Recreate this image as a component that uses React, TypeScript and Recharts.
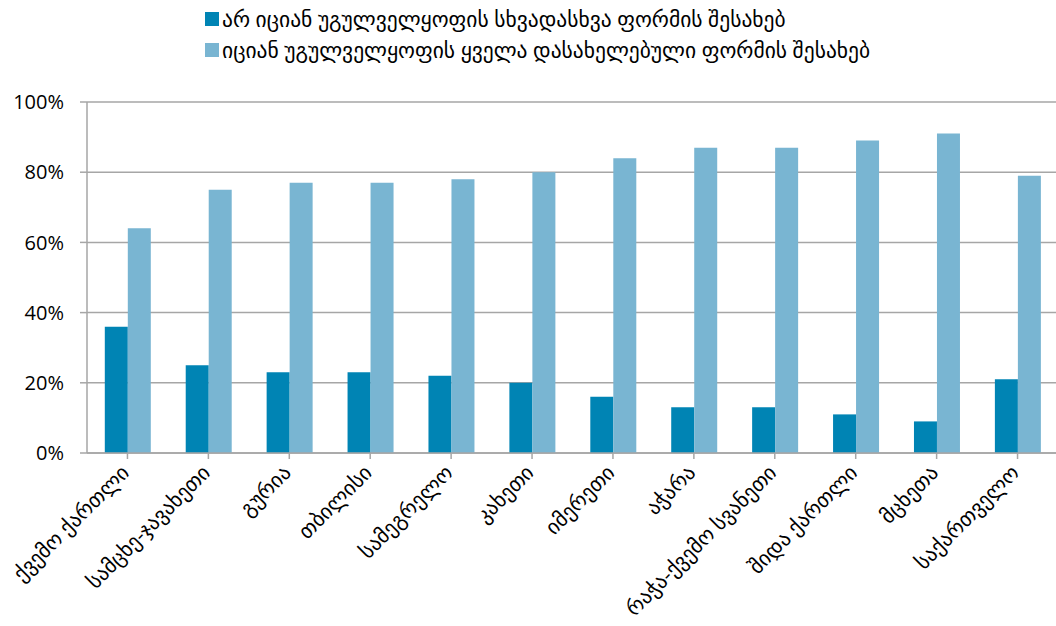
import { BarChart, Bar, XAxis, YAxis, CartesianGrid, Legend } from 'recharts';

const regions = [
  'ქვემო ქართლი',
  'სამცხე-ჯავახეთი',
  'გურია',
  'თბილისი',
  'სამეგრელო',
  'კახეთი',
  'იმერეთი',
  'აჭარა',
  'რაჭა-ქვემო სვანეთი',
  'შიდა ქართლი',
  'მცხეთა',
  'საქართველო',
];
const notAware = [36, 25, 23, 23, 22, 20, 16, 13, 13, 11, 9, 21];
const aware = [64, 75, 77, 77, 78, 80, 84, 87, 87, 89, 91, 79];
const yTicks = [0, 20, 40, 60, 80, 100];

const seriesNames = {
  notAware: 'არ იციან უგულველყოფის სხვადასხვა ფორმის შესახებ',
  aware: 'იციან უგულველყოფის ყველა დასახელებული ფორმის შესახებ',
};

const DARK = '#0084b4';
const LIGHT = '#79b5d2';
const AXIS = '#a6a6a6';
const FONT = "'Open Sans', 'DejaVu Sans', sans-serif";

const data = regions.map((name, i) => ({ name, notAware: notAware[i], aware: aware[i] }));

function XTick({ x, y, payload }: any) {
  const ax = x + 3;
  const ay = y + 13;
  return (
    <text
      x={ax}
      y={ay}
      transform={`rotate(-45 ${ax} ${ay})`}
      textAnchor="end"
      fontSize={21}
      fontFamily={FONT}
      fill="#000"
    >
      {payload.value}
    </text>
  );
}

function LegendBox({ payload }: any) {
  return (
    <div style={{ fontFamily: FONT, fontSize: 21.5, color: '#000', lineHeight: '31px' }}>
      {(payload || []).map((p: any) => (
        <div key={p.value} style={{ display: 'flex', alignItems: 'center', whiteSpace: 'nowrap' }}>
          <span style={{ width: 14, height: 14, background: p.color, marginRight: 3, display: 'inline-block' }} />
          {p.value}
        </div>
      ))}
    </div>
  );
}

export default function App() {
  return (
    <div style={{ position: 'absolute', left: 0, top: 0, width: 1056, height: 626, overflow: 'hidden', background: '#fff' }}>
      <BarChart
        width={1062}
        height={626}
        data={data}
        margin={{ top: 102, right: 4, bottom: 0, left: 0 }}
        barCategoryGap="22%"
        barGap={0}
      >
        <CartesianGrid vertical={false} stroke={AXIS} strokeWidth={1.5} />
        <XAxis
          dataKey="name"
          interval={0}
          height={173}
          stroke={AXIS}
          strokeWidth={1.5}
          tickSize={6}
          tick={<XTick />}
        />
        <YAxis
          width={87}
          domain={[0, 100]}
          ticks={yTicks}
          tickFormatter={(v) => `${v}%`}
          stroke={AXIS}
          strokeWidth={1.5}
          tickSize={7}
          tickMargin={16}
          tick={{ fill: '#000', fontSize: 20, fontFamily: FONT }}
        />
        <Legend
          layout="horizontal"
          verticalAlign="middle"
          align="center"
          wrapperStyle={{ top: 3, left: 205, width: 840 }}
          content={<LegendBox />}
        />
        <Bar dataKey="notAware" name={seriesNames.notAware} fill={DARK} isAnimationActive={false} />
        <Bar dataKey="aware" name={seriesNames.aware} fill={LIGHT} isAnimationActive={false} />
      </BarChart>
    </div>
  );
}
